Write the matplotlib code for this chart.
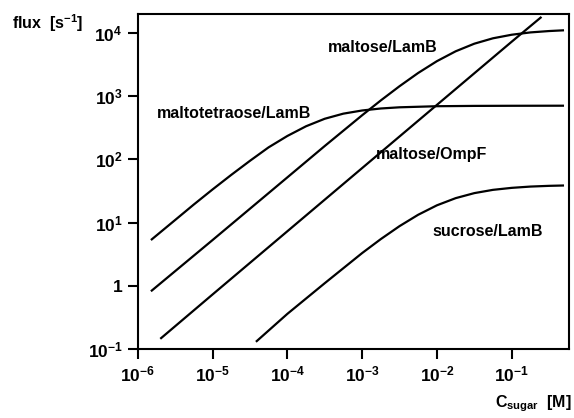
import matplotlib
matplotlib.use("Agg")
import matplotlib.pyplot as plt

plt.rcParams["font.family"] = "Liberation Sans"
plt.rcParams["font.weight"] = "bold"
plt.rcParams["mathtext.fontset"] = "custom"
plt.rcParams["mathtext.rm"] = "Liberation Sans:bold"
plt.rcParams["mathtext.it"] = "Liberation Sans:bold"
plt.rcParams["mathtext.bf"] = "Liberation Sans:bold"

# sugar concentration [M] and flux [1/s] for each sugar/porin pair
c_tetra = [1.5e-6, 3.16e-6, 5.6e-6, 1e-5, 1.78e-5, 3.16e-5, 5.6e-5, 1e-4, 1.78e-4,
           3.16e-4, 5.6e-4, 1e-3, 1.78e-3, 3.16e-3, 1e-2, 3.16e-2, 0.1, 0.5]
j_tetra = [5.3, 11.0, 19.3, 33.5, 57, 95, 155, 235, 335,
           440, 530, 595, 640, 668, 695, 703, 706, 708]

c_malt_lamb = [1.5e-6, 1e-5, 1e-4, 3.16e-4, 1e-3, 1.78e-3, 3.16e-3, 5.6e-3,
               1e-2, 1.78e-2, 3.16e-2, 5.6e-2, 0.1, 0.178, 0.316, 0.5]
j_malt_lamb = [0.82, 5.3, 52, 163, 500, 860, 1440, 2330,
               3590, 5140, 6780, 8250, 9400, 10230, 10750, 11050]

c_malt_ompf = [2e-6, 1e-5, 1e-4, 1e-3, 1e-2, 1e-1, 0.25]
j_malt_ompf = [0.145, 0.73, 7.3, 73, 730, 7300, 18000]

c_sucr = [3.8e-5, 1e-4, 3.16e-4, 1e-3, 1.78e-3, 3.16e-3, 5.6e-3, 1e-2,
          1.78e-2, 3.16e-2, 5.6e-2, 0.1, 0.178, 0.316, 0.5]
j_sucr = [0.13, 0.36, 1.1, 3.3, 5.5, 8.8, 13.3, 18.8,
          24.4, 29.3, 33, 35.5, 37.2, 38.2, 38.7]

x_ticks = [1e-6, 1e-5, 1e-4, 1e-3, 1e-2, 1e-1]
x_labels = ["$10^{-6}$", "$10^{-5}$", "$10^{-4}$", "$10^{-3}$", "$10^{-2}$", "$10^{-1}$"]
y_ticks = [1e-1, 1, 1e1, 1e2, 1e3, 1e4]
y_labels = ["$10^{-1}$", "1", "$10^{1}$", "$10^{2}$", "$10^{3}$", "$10^{4}$"]

fig = plt.figure(figsize=(5.74, 4.18), dpi=100)
ax = fig.add_axes([0.240, 0.165, 0.751, 0.8015])

for c, j in [(c_tetra, j_tetra), (c_malt_lamb, j_malt_lamb),
             (c_malt_ompf, j_malt_ompf), (c_sucr, j_sucr)]:
    ax.plot(c, j, color="black", lw=1.6, solid_capstyle="butt", solid_joinstyle="round")

ax.set_xscale("log")
ax.set_yscale("log")
ax.set_xlim(1e-6, 0.58)
ax.set_ylim(1e-1, 2e4)
ax.set_xticks(x_ticks)
ax.set_xticklabels(x_labels)
ax.set_yticks(y_ticks)
ax.set_yticklabels(y_labels)
ax.minorticks_off()
ax.tick_params(axis="both", direction="out", length=7, width=1.5, labelsize=12.5, pad=4)
for s in ax.spines.values():
    s.set_linewidth(1.5)

lbl = dict(fontsize=11.5, fontweight="bold", ha="center", va="center")
fig.text(383 / 574, 1 - 47 / 418, "maltose/LamB", **lbl)
fig.text(234 / 574, 1 - 113 / 418, "maltotetraose/LamB", **lbl)
fig.text(432 / 574, 1 - 155 / 418, "maltose/OmpF", **lbl)
fig.text(488 / 574, 1 - 232 / 418, "sucrose/LamB", **lbl)

fig.text(12 / 574, 1 - 23 / 418, "flux  [s$^{-1}$]", fontsize=11.5, ha="left", va="center")
fig.text(572 / 574, 1 - 404 / 418, "C$_{\\mathrm{sugar}}$  [M]", fontsize=11.5, ha="right", va="center")

fig.savefig("out.png", dpi=100)
